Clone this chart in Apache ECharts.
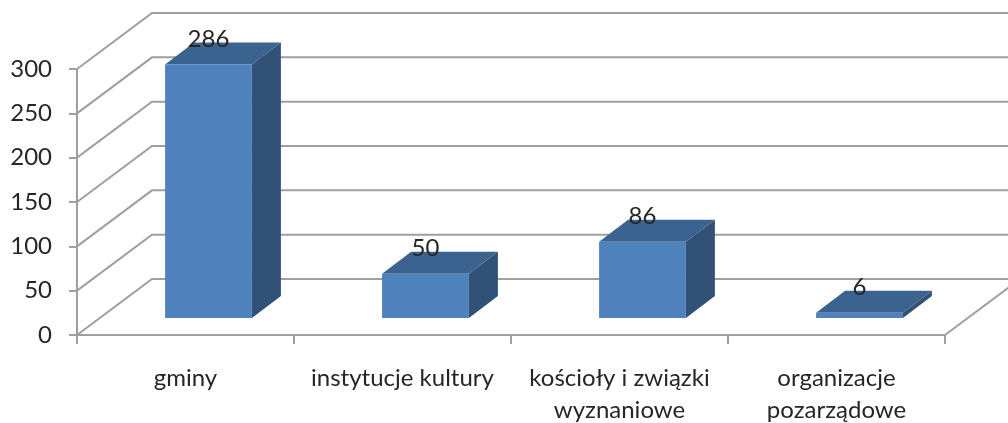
<!DOCTYPE html>
<html>
<head>
<meta charset="utf-8">
<style>
  html, body { margin: 0; padding: 0; background: #fff; }
  #chart { width: 1008px; height: 423px; }
</style>
</head>
<body>
<div id="chart"></div>
<script src="https://cdn.jsdelivr.net/npm/echarts@6/dist/echarts.min.js"></script>
<script>
const categories = ['gminy', 'instytucje kultury', 'kościoły i związki\nwyznaniowe', 'organizacje\npozarządowe'];
const values = [286, 50, 86, 6];
const yTicks = [0, 50, 100, 150, 200, 250, 300];

/* przesunięcie tylnej ściany i słupków względem przedniej płaszczyzny (px) */
const WALL_DX = 75, WALL_DY = 56;
const BAR_DX = 23, BAR_DY = 17;
const BAR_DEPTH_X = 29, BAR_DEPTH_Y = 22;
const LINE_COLOR = '#9f9f9f';
const TEXT_COLOR = '#262626';
const FONT = 'Lato';

function renderWall(params, api) {
    let sys = params.coordSys;
    let y = api.coord([0, api.value(1)])[1];
    let points = [
        [sys.x, y],
        [sys.x + WALL_DX, y - WALL_DY],
        [sys.x + sys.width + WALL_DX, y - WALL_DY]
    ];
    let children = [{
        type: 'polyline',
        shape: { points: points },
        style: { stroke: LINE_COLOR, lineWidth: 2, fill: null }
    }];
    // prawa krawędź podłogi
    if (api.value(1) === 0) {
        children.push({
            type: 'line',
            shape: { x1: sys.x + sys.width, y1: y, x2: sys.x + sys.width + WALL_DX, y2: y - WALL_DY },
            style: { stroke: LINE_COLOR, lineWidth: 2 }
        });
    }
    return { type: 'group', children: children };
}

function renderBar(params, api) {
    let top = api.coord([api.value(0), api.value(1)]);
    let bottom = api.coord([api.value(0), 0]);
    let w = api.size([1, 0])[0] * 0.4;
    let x0 = top[0] - w / 2 + BAR_DX;
    let x1 = x0 + w;
    let yT = top[1] - BAR_DY;
    let yB = bottom[1] - BAR_DY;
    return {
        type: 'group',
        children: [
            {
                type: 'polygon',
                shape: { points: [[x1, yT], [x1 + BAR_DEPTH_X, yT - BAR_DEPTH_Y], [x1 + BAR_DEPTH_X, yB - BAR_DEPTH_Y], [x1, yB]] },
                style: { fill: '#315177' }
            },
            {
                type: 'polygon',
                shape: { points: [[x0, yT], [x0 + BAR_DEPTH_X, yT - BAR_DEPTH_Y], [x1 + BAR_DEPTH_X, yT - BAR_DEPTH_Y], [x1, yT]] },
                style: { fill: '#3c628f' }
            },
            {
                type: 'rect',
                shape: { x: x0, y: yT, width: w, height: yB - yT },
                style: { fill: '#4f81bd' }
            },
            {
                type: 'text',
                style: {
                    text: String(api.value(1)),
                    x: (x0 + x1) / 2,
                    y: yT - 25,
                    align: 'center',
                    verticalAlign: 'middle',
                    fill: TEXT_COLOR,
                    font: '24px ' + FONT
                }
            }
        ]
    };
}

let myChart = echarts.init(document.getElementById('chart'));
let option = {
    animation: false,
    backgroundColor: '#fff',
    textStyle: { fontFamily: FONT },
    grid: { left: 77, top: 69, width: 868, height: 266, outerBoundsMode: 'none' },
    xAxis: {
        type: 'category',
        data: categories,
        axisLine: { lineStyle: { color: LINE_COLOR, width: 2 } },
        axisTick: { show: true, length: 9, lineStyle: { color: LINE_COLOR, width: 2 } },
        axisLabel: { interval: 0, color: TEXT_COLOR, fontSize: 24, lineHeight: 32, margin: 27, fontFamily: FONT }
    },
    yAxis: {
        type: 'value',
        min: 0,
        max: 300,
        interval: 50,
        axisLine: { show: true, lineStyle: { color: LINE_COLOR, width: 2 } },
        axisTick: { show: true, length: 8, lineStyle: { color: LINE_COLOR, width: 2 } },
        splitLine: { show: false },
        axisLabel: { color: TEXT_COLOR, fontSize: 24, margin: 25, padding: [4, 0, 0, 0], fontFamily: FONT }
    },
    series: [
        {
            type: 'custom',
            silent: true,
            clip: false,
            z: 1,
            renderItem: renderWall,
            data: yTicks.map(v => [0, v])
        },
        {
            type: 'custom',
            silent: true,
            clip: false,
            z: 3,
            renderItem: renderBar,
            data: values.map((v, i) => [i, v])
        }
    ]
};
myChart.setOption(option);
</script>
</body>
</html>
